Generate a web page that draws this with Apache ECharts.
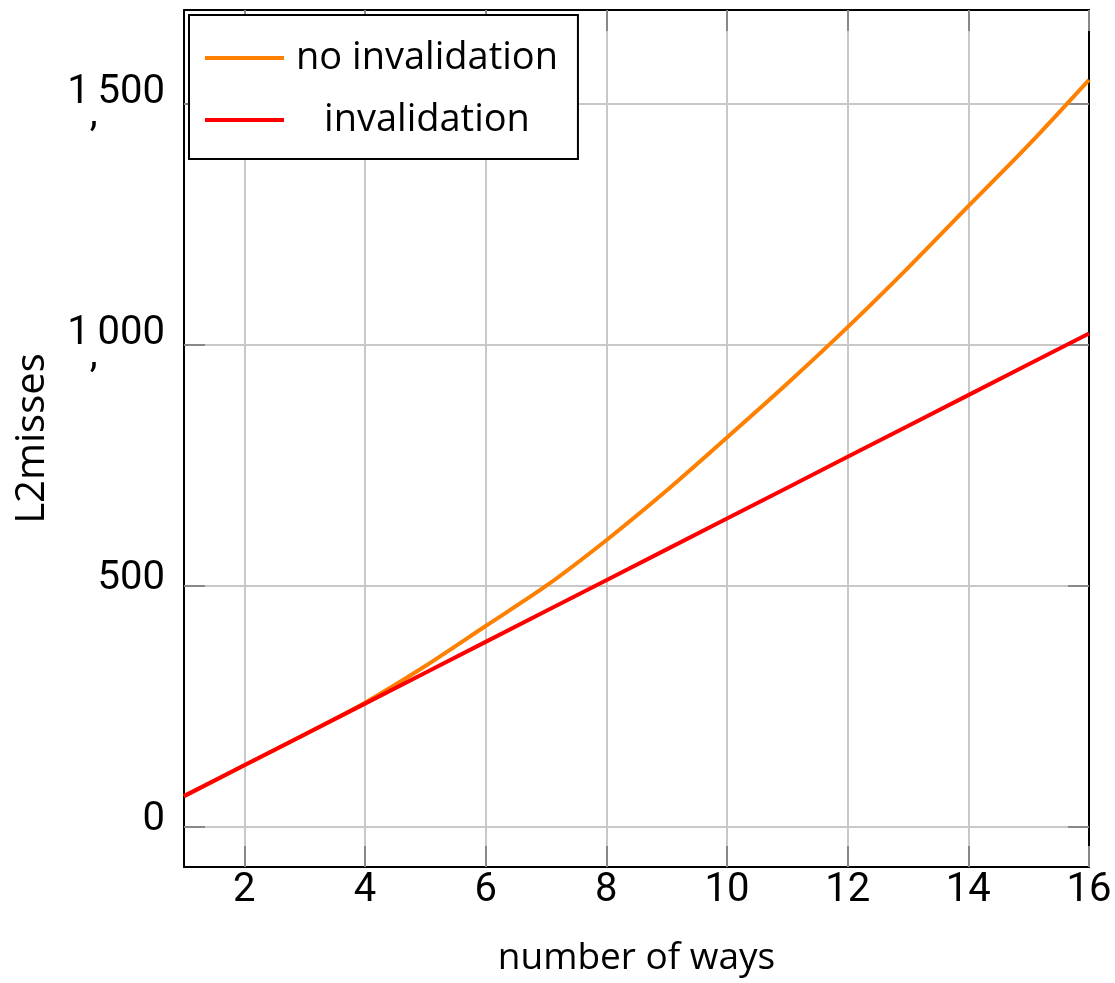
<!DOCTYPE html>
<html>
<head>
<meta charset="utf-8">
<script src="https://cdn.jsdelivr.net/npm/echarts@6/dist/echarts.min.js"></script>
<style>html,body{margin:0;padding:0;background:#fff}#c{width:1115px;height:983px}</style>
</head>
<body>
<div id="c"></div>
<script>
const ways = [1,2,3,4,5,6,7,8,9,10,11,12,13,14,15,16];
const noInvalidation = [64,128,192,258,334,417,500,595,698,808,920,1037,1160,1288,1415,1550];
const invalidation = [64,128,192,256,320,384,448,512,576,640,704,768,832,896,960,1024];
const xTicks = [2,4,6,8,10,12,14,16];
const yTicks = [0,500,1000,1500];
const seriesNames = ['no invalidation','invalidation'];

const tickFont = "Roboto,'Liberation Sans Narrow',sans-serif";
const textFont = "'Open Sans',sans-serif";
function fmtY(v){
  if (v >= 1000) {
    return '{z|}{n|' + Math.floor(v/1000) + '}{c|,}{n|' + String(v%1000).padStart(3,'0') + '}';
  }
  return '{m|' + v + '}';
}

const chart = echarts.init(document.getElementById('c'), null, {renderer:'canvas'});
const tickStyle = {show:true, inside:true, length:21, lineStyle:{color:'#888', width:2}};
const lineStyle = {show:true, onZero:false, lineStyle:{color:'#000', width:2}};
const lblBase = {fontFamily:tickFont, fontSize:40, color:'#000'};
chart.setOption({
  animation:false,
  backgroundColor:'#fff',
  grid:{left:184, right:26, top:10, bottom:116},
  legend:{
    data:seriesNames,
    orient:'vertical', left:189, top:15,
    backgroundColor:'#fff', borderColor:'#000', borderWidth:2, borderRadius:0,
    padding:[24,20,20,16],
    itemWidth:79, itemHeight:4, itemGap:24, icon:'rect',
    formatter: n => '{c|' + n + '}',
    textStyle:{fontFamily:textFont, fontSize:38, rich:{c:{width:276, align:'center', fontFamily:textFont, fontSize:38, color:'#000'}}}
  },
  xAxis:[{
    type:'value', min:1, max:16, position:'bottom',
    name:'number of ways', nameLocation:'middle', nameGap:73,
    nameTextStyle:{fontFamily:textFont, fontSize:37, color:'#000'},
    axisLine:lineStyle,
    axisTick:Object.assign({customValues:xTicks}, tickStyle),
    axisLabel:Object.assign({customValues:xTicks, margin:4}, lblBase),
    splitLine:{show:true, lineStyle:{color:'#c8c8c8', width:2}}
  },{
    type:'value', min:1, max:16, position:'top',
    axisLine:lineStyle,
    axisTick:Object.assign({customValues:xTicks}, tickStyle),
    axisLabel:{show:false}, splitLine:{show:false}
  }],
  yAxis:[{
    type:'value', min:-83, max:1695, position:'left',
    name:'L2misses', nameLocation:'middle', nameGap:131,
    nameTextStyle:{fontFamily:textFont, fontSize:40, color:'#000'},
    axisLine:lineStyle,
    axisTick:Object.assign({customValues:yTicks}, tickStyle),
    axisLabel:Object.assign({customValues:yTicks, formatter:fmtY, margin:19, rich:{
      n:Object.assign({lineHeight:40, verticalAlign:'top'}, lblBase),
      c:Object.assign({lineHeight:40, verticalAlign:'top', padding:[22,0,0,0]}, lblBase),
      z:Object.assign({lineHeight:62, height:62, verticalAlign:'top'}, lblBase),
      m:Object.assign({lineHeight:40, padding:[0,0,14,0]}, lblBase)
    }}, lblBase),
    splitLine:{show:true, lineStyle:{color:'#c8c8c8', width:2}}
  },{
    type:'value', min:-83, max:1695, position:'right',
    axisLine:lineStyle,
    axisTick:Object.assign({customValues:yTicks}, tickStyle),
    axisLabel:{show:false}, splitLine:{show:false}
  }],
  series:[{
    name:seriesNames[0], type:'line', showSymbol:false, smooth:0.3,
    data: ways.map((w,i)=>[w, noInvalidation[i]]),
    lineStyle:{color:'#ff8000', width:4}, itemStyle:{color:'#ff8000'}, z:3
  },{
    name:seriesNames[1], type:'line', showSymbol:false,
    data: ways.map((w,i)=>[w, invalidation[i]]),
    lineStyle:{color:'#ff0000', width:4}, itemStyle:{color:'#ff0000'}, z:4
  }]
});
</script>
</body>
</html>
